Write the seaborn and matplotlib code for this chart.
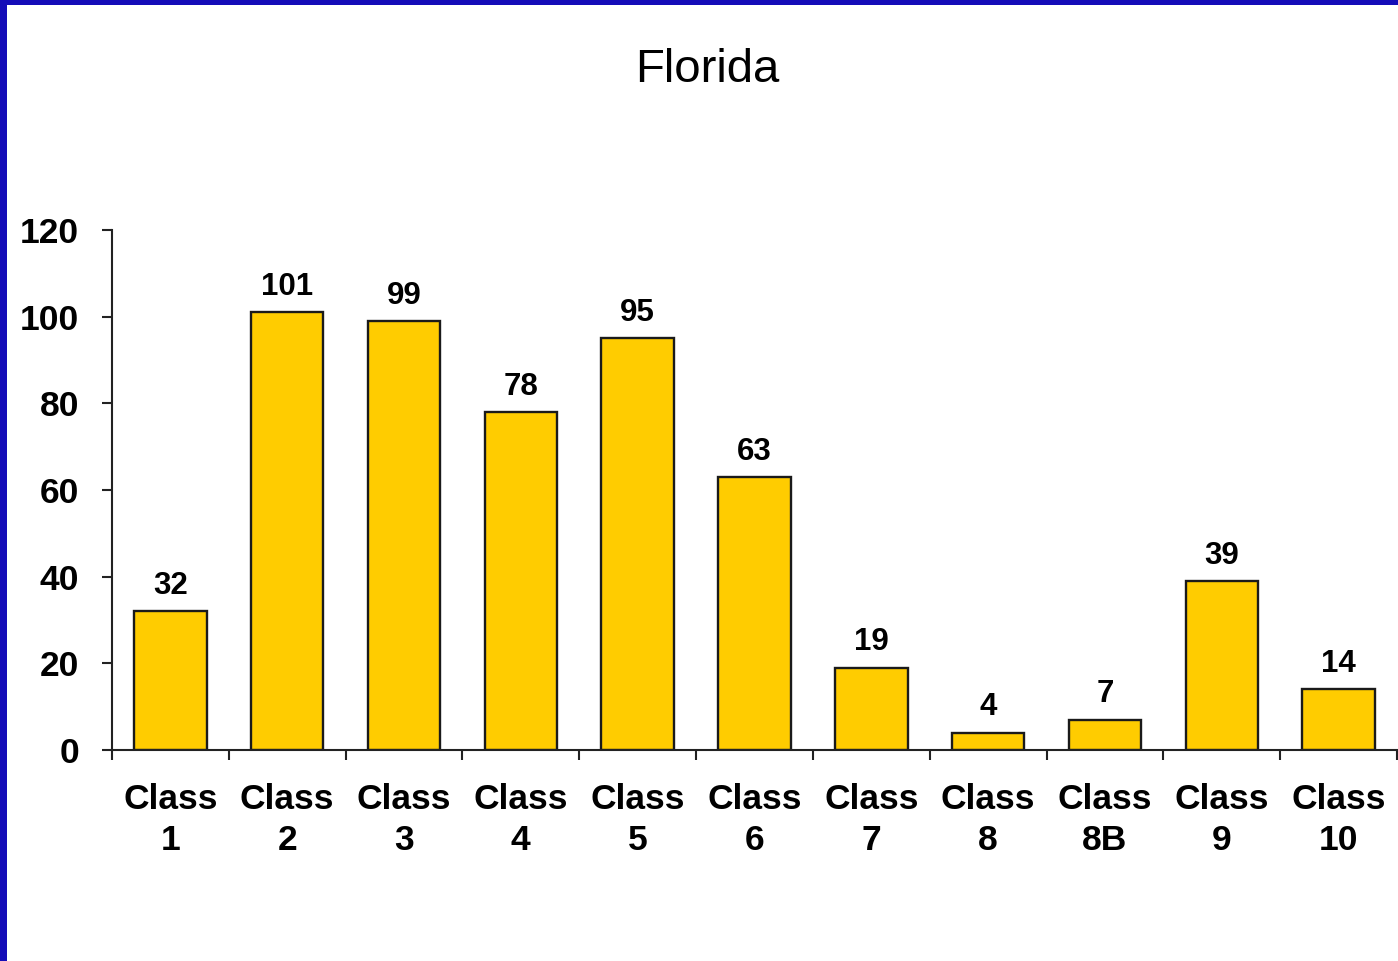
import matplotlib
matplotlib.use("Agg")
import matplotlib.pyplot as plt
from matplotlib.patches import Rectangle
from matplotlib.ticker import FixedLocator
import seaborn as sns
import pandas as pd

categories = ["Class\n1", "Class\n2", "Class\n3", "Class\n4", "Class\n5", "Class\n6",
              "Class\n7", "Class\n8", "Class\n8B", "Class\n9", "Class\n10"]
counts = [32, 101, 99, 78, 95, 63, 19, 4, 7, 39, 14]
y_ticks = [0, 20, 40, 60, 80, 100, 120]
title = "Florida"

sns.set_theme(style="white")
plt.rcParams["font.family"] = ["Liberation Sans", "DejaVu Sans"]

df = pd.DataFrame({"category": categories, "count": counts})

W, H, DPI = 1398, 961, 100
fig = plt.figure(figsize=(W / DPI, H / DPI), dpi=DPI, facecolor="white")
ax = fig.add_axes([112 / W, 1 - 750 / H, (1397 - 112) / W, (750 - 230) / H])
ax.set_facecolor("white")

sns.barplot(data=df, x="category", y="count", color="#FFCC00", saturation=1,
            width=0.62, edgecolor="#1a1a1a", linewidth=1.7, ax=ax)

ax.set_xlim(-0.5, len(categories) - 0.5)
ax.set_ylim(0, 120)
ax.set_yticks(y_ticks)
ax.set_xlabel("")
ax.set_ylabel("")

for side in ("top", "right"):
    ax.spines[side].set_visible(False)
for side in ("left", "bottom"):
    ax.spines[side].set_color("#222222")
    ax.spines[side].set_linewidth(1.5)

# category boundaries carry the tick marks, labels sit at bar centres
ax.xaxis.set_minor_locator(FixedLocator([i - 0.5 for i in range(len(categories) + 1)]))
ax.tick_params(axis="x", which="major", length=0, pad=23.5, labelsize=25.5)
ax.tick_params(axis="x", which="minor", length=7.5, width=1.5, color="#222222", direction="out", bottom=True)
ax.tick_params(axis="y", which="major", length=7.5, width=1.5, color="#222222", direction="out",
               left=True, pad=16, labelsize=25.5)
for lbl in ax.get_xticklabels() + ax.get_yticklabels():
    lbl.set_fontweight("bold")
    lbl.set_color("black")
for lbl in ax.get_xticklabels():
    lbl.set_linespacing(1.33)

for cont in ax.containers:
    ax.bar_label(cont, labels=[str(v) for v in counts], padding=7.5,
                 fontsize=22.5, fontweight="bold", color="black")

fig.text(707 / W, 1 - 82 / H, title, ha="center", va="baseline", fontsize=34, color="black")

# blue frame along the top and left edges
fig.add_artist(Rectangle((0, 1 - 5 / H), 1, 5 / H, transform=fig.transFigure,
                         facecolor="#140CB8", edgecolor="none", zorder=10))
fig.add_artist(Rectangle((0, 0), 7 / W, 1, transform=fig.transFigure,
                         facecolor="#140CB8", edgecolor="none", zorder=10))

fig.savefig("out.png", dpi=DPI, facecolor="white")
